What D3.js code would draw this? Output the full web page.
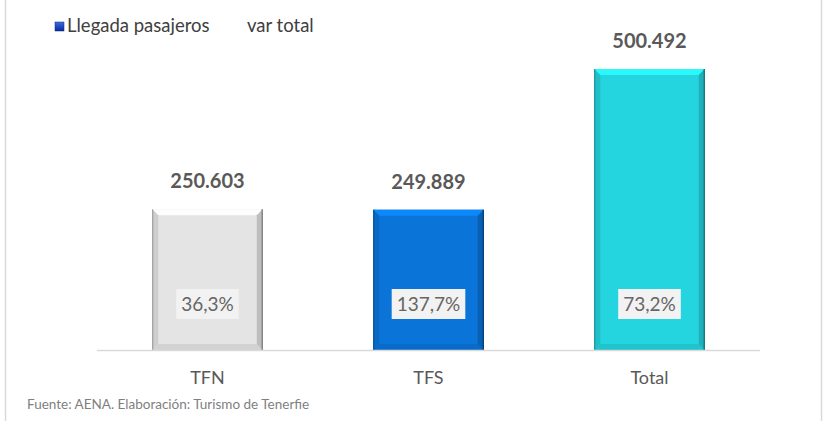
<!DOCTYPE html>
<html lang="es">
<head>
    <meta charset="UTF-8">
    <title>Llegada pasajeros</title>
    <script src="https://d3js.org/d3.v7.min.js"></script>
    <style>
        body { margin: 0; background: #fff; font-family: Lato, "Open Sans", sans-serif; }
        svg { display: block; }
    </style>
</head>
<body>
    <div id="chart"></div>
    <script>
        const categories = ["TFN", "TFS", "Total"];
        const pasajeros = [250603, 249889, 500492];
        const varTotal = ["36,3%", "137,7%", "73,2%"];
        const barColors = ["#e4e4e4", "#0a74d8", "#24d4de"];

        const width = 827, height = 421;
        const svg = d3.select("#chart").append("svg")
            .attr("width", width).attr("height", height);

        // marco
        svg.append("line").attr("x1", 5.5).attr("x2", 5.5).attr("y1", 0).attr("y2", height)
            .attr("stroke", "#d9d9d9").attr("stroke-width", 1.5);
        svg.append("line").attr("x1", 821.5).attr("x2", 821.5).attr("y1", 0).attr("y2", height)
            .attr("stroke", "#d9d9d9").attr("stroke-width", 1.5);

        const x = d3.scaleBand().domain(categories).range([97, 760])
            .paddingInner(0.5).paddingOuter(0.25);
        const y = d3.scaleLinear().domain([0, d3.max(pasajeros)]).range([350, 69]);

        const data = categories.map((c, i) => ({ cat: c, val: pasajeros[i], pct: varTotal[i], color: barColors[i] }));

        // barras con bisel
        const bars = svg.selectAll(".bar").data(data).enter().append("g").attr("class", "bar");
        const bev = 6;
        bars.each(function (d) {
            const g = d3.select(this);
            const x0 = x(d.cat), x1 = x0 + x.bandwidth();
            const y0 = y(d.val), y1 = y(0);
            const c = d3.color(d.color);
            g.append("rect").attr("x", x0).attr("y", y0).attr("width", x1 - x0).attr("height", y1 - y0)
                .attr("fill", d.color);
            // arriba
            g.append("polygon")
                .attr("points", [[x0, y0], [x1, y0], [x1 - bev, y0 + bev], [x0 + bev, y0 + bev]].join(" "))
                .attr("fill", c.brighter(0.5)).attr("opacity", 0.9);
            // izquierda
            g.append("polygon")
                .attr("points", [[x0, y0], [x0 + bev, y0 + bev], [x0 + bev, y1 - bev], [x0, y1]].join(" "))
                .attr("fill", c.darker(0.6)).attr("opacity", 0.5);
            // derecha
            g.append("polygon")
                .attr("points", [[x1, y0], [x1 - bev, y0 + bev], [x1 - bev, y1 - bev], [x1, y1]].join(" "))
                .attr("fill", c.darker(0.9)).attr("opacity", 0.6);
            // abajo
            g.append("polygon")
                .attr("points", [[x0, y1], [x0 + bev, y1 - bev], [x1 - bev, y1 - bev], [x1, y1]].join(" "))
                .attr("fill", c.darker(0.5)).attr("opacity", 0.5);
            g.append("line").attr("x1", x0 + 0.5).attr("x2", x0 + 0.5).attr("y1", y0).attr("y2", y1)
                .attr("stroke", c.darker(1.2)).attr("stroke-width", 1);
            g.append("line").attr("x1", x1 - 0.5).attr("x2", x1 - 0.5).attr("y1", y0).attr("y2", y1)
                .attr("stroke", c.darker(1.5)).attr("stroke-width", 1.5);
        });

        // eje X
        svg.append("line").attr("x1", x.range()[0]).attr("x2", x.range()[1])
            .attr("y1", y(0) + 0.5).attr("y2", y(0) + 0.5)
            .attr("stroke", "#d9d9d9").attr("stroke-width", 1.5);

        svg.selectAll(".cat").data(data).enter().append("text")
            .attr("x", d => x(d.cat) + x.bandwidth() / 2)
            .attr("y", y(0) + 34)
            .attr("text-anchor", "middle")
            .attr("fill", "#595959")
            .style("font-size", "18px")
            .text(d => d.cat);

        // etiquetas de valor
        svg.selectAll(".val").data(data).enter().append("text")
            .attr("x", d => x(d.cat) + x.bandwidth() / 2)
            .attr("y", d => y(d.val) - 21)
            .attr("text-anchor", "middle")
            .attr("fill", "#595959")
            .style("font-size", "20px")
            .style("font-weight", "bold")
            .text(d => d3.format(",")(d.val).replace(/,/g, "."));

        // etiquetas var total
        const pl = svg.selectAll(".pct").data(data).enter().append("g")
            .attr("transform", d => `translate(${x(d.cat) + x.bandwidth() / 2},${y(0) - 46})`);
        pl.append("text")
            .attr("text-anchor", "middle")
            .attr("dy", "0.35em")
            .attr("fill", "#666")
            .style("font-size", "19px")
            .text(d => d.pct);
        pl.each(function () {
            const g = d3.select(this);
            const b = g.select("text").node().getBBox();
            g.insert("rect", "text")
                .attr("x", b.x - 5).attr("y", -15)
                .attr("width", b.width + 10).attr("height", 30)
                .attr("fill", "#f2f2f2");
        });

        // leyenda
        const lg = svg.append("g").attr("transform", "translate(55,20)");
        const grad = svg.append("defs").append("linearGradient").attr("id", "lgGrad")
            .attr("x1", 0).attr("y1", 0).attr("x2", 0).attr("y2", 1);
        grad.append("stop").attr("offset", "0%").attr("stop-color", "#3a6fe0");
        grad.append("stop").attr("offset", "100%").attr("stop-color", "#0a2a9a");
        lg.append("rect").attr("x", 0).attr("y", 2).attr("width", 9).attr("height", 9)
            .attr("fill", "url(#lgGrad)").attr("stroke", "#0a2a7a").attr("stroke-width", 0.5);
        lg.append("text").attr("x", 12).attr("y", 11.5).attr("fill", "#404040")
            .style("font-size", "18.5px").text("Llegada pasajeros");
        lg.append("text").attr("x", 192).attr("y", 11.5).attr("fill", "#404040")
            .style("font-size", "18.5px").text("var total");

        // fuente
        svg.append("text").attr("x", 27).attr("y", 409).attr("fill", "#7f7f7f")
            .style("font-size", "13.5px").text("Fuente: AENA. Elaboración: Turismo de Tenerfie");
    </script>
</body>
</html>
